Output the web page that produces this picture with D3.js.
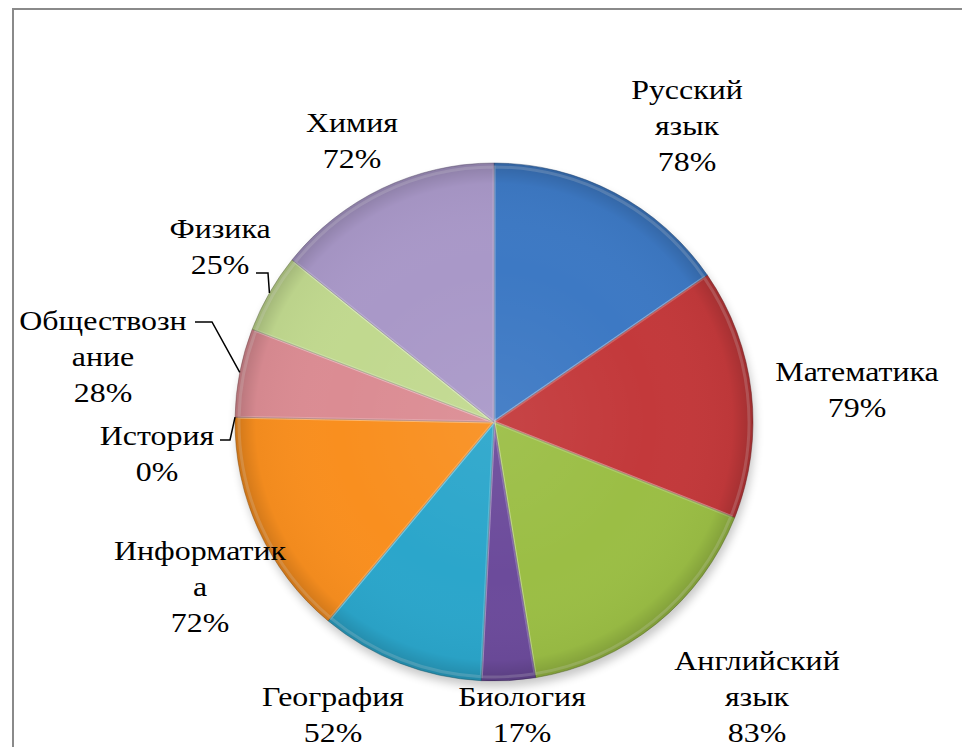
<!DOCTYPE html>
<html><head><meta charset="utf-8">
<script src="https://cdn.jsdelivr.net/npm/d3@7"></script>
<style>body{margin:0;background:#fff}svg{display:block}</style>
</head><body><svg id="c" width="962" height="747"></svg>
<script>
// ---- data ----
const categories = ["Русский язык","Математика","Английский язык","Биология","География","Информатика","История","Обществознание","Физика","Химия"];
const values = [78,79,83,17,52,72,0,28,25,72];
const labelLines = [["Русский","язык"],["Математика"],["Английский","язык"],["Биология"],["География"],["Информатик","а"],["История"],["Обществозн","ание"],["Физика"],["Химия"]];
const percentLabels = ["78%","79%","83%","17%","52%","72%","0%","28%","25%","72%"];

// ---- styles / layout ----
const colors = ["#3d79c4","#c3393b","#9bbe45","#6c4b9b","#2ba6cb","#f98f1f","#9fb7dc","#db8c93","#c1d98f","#a998c8"];
const W = 962, H = 747, cx = 494, cy = 422, R = 259;
const fontSize = 28, lineH = 36, stretchX = 1.14;
const labelPos = [[687,99],[857,381],[757,670],[522,706],[333,706],[200,560],[157,445],[103,330],[220,238],[352,132]];
const leaders = {6:[[220,440],[230,440]], 7:[[195,322],[212,322]], 8:[[256,273],[268,273]]};

const svg = d3.select("#c");
const defs = svg.append("defs");

// frame
svg.append("path").attr("d",`M13,${H} L13,9 L${W},9`).attr("fill","none").attr("stroke","#8a8a8a").attr("stroke-width",2);

// shadow
const sh = defs.append("filter").attr("id","shadow").attr("x","-20%").attr("y","-20%").attr("width","140%").attr("height","140%");
sh.append("feGaussianBlur").attr("stdDeviation",5);

// rim shading overlay
const rg = defs.append("radialGradient").attr("id","rim").attr("gradientUnits","userSpaceOnUse")
  .attr("cx",cx).attr("cy",cy).attr("r",R);
rg.append("stop").attr("offset","0%").attr("stop-color","#fff").attr("stop-opacity",0.06);
rg.append("stop").attr("offset","60%").attr("stop-color","#fff").attr("stop-opacity",0);
rg.append("stop").attr("offset","92%").attr("stop-color","#000").attr("stop-opacity",0.03);
rg.append("stop").attr("offset","100%").attr("stop-color","#000").attr("stop-opacity",0.18);

const pie = d3.pie().value(d=>d).sort(null);
const arcs = pie(values);
const arc = d3.arc().innerRadius(0).outerRadius(R);
const arcIn = d3.arc().innerRadius(0).outerRadius(R-4);

const g = svg.append("g").attr("transform",`translate(${cx},${cy})`);
g.append("circle").attr("cx",2).attr("cy",6).attr("r",R).attr("fill","#000").attr("opacity",0.22).attr("filter","url(#shadow)");

arcs.forEach((a,i)=>{
  const c = d3.color(colors[i]);
  g.append("path").attr("d",arc(a)).attr("fill",colors[i])
    .attr("stroke",c.darker(1.5).formatHex()).attr("stroke-width",a.value>0?0.8:0).attr("stroke-opacity",0.6);
  g.append("path").attr("d",arcIn(a)).attr("fill","none")
    .attr("stroke","#fff").attr("stroke-opacity",a.value>0?0.2:0).attr("stroke-width",3);
});
svg.append("circle").attr("cx",cx).attr("cy",cy).attr("r",R).attr("fill","url(#rim)").attr("pointer-events","none");

// leaders
Object.entries(leaders).forEach(([k,pts])=>{
  const a = arcs[+k];
  const mid = (a.startAngle+a.endAngle)/2;
  const end = [cx+Math.sin(mid)*R, cy-Math.cos(mid)*R];
  svg.append("polyline").attr("points",[...pts,end].map(p=>p.join(",")).join(" "))
    .attr("fill","none").attr("stroke","#000").attr("stroke-width",1.5);
});

// labels
arcs.forEach((a,i)=>{
  const lines = [...labelLines[i], percentLabels[i]];
  const t = svg.append("text")
    .attr("transform",`translate(${labelPos[i][0]},${labelPos[i][1]}) scale(${stretchX},1)`)
    .attr("text-anchor","middle").attr("font-size",fontSize).attr("fill","#000")
    .style("font-family",'"Liberation Serif"');
  lines.forEach((l,j)=>t.append("tspan").attr("x",0).attr("dy",j?lineH:0).text(l));
});
</script></body></html>
